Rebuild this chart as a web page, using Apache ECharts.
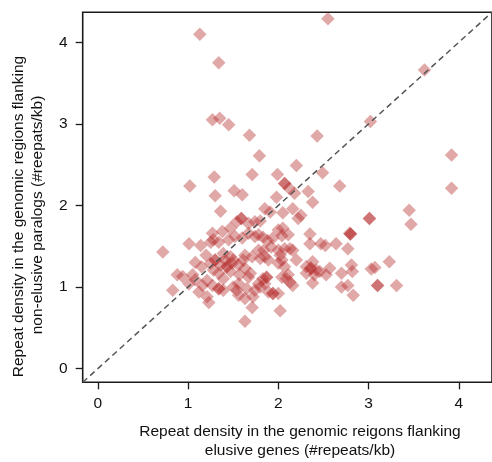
<!DOCTYPE html>
<html>
<head>
<meta charset="utf-8">
<script src="https://cdn.jsdelivr.net/npm/echarts@6/dist/echarts.min.js"></script>
<style>
html,body{margin:0;padding:0;background:#fff;}
#chart{width:492px;height:462px;}
</style>
</head>
<body>
<div id="chart"></div>
<script>
// Repeat density near elusive genes (x) vs near non-elusive paralogs (y)
const xValues = [
  1.13, 2.55, 1.34, 3.62, 1.27, 1.35, 1.45, 3.02, 1.68, 2.43,
  1.79, 3.92, 1.29, 1.71, 1.99, 2.20, 2.49, 1.02, 2.68, 3.92,
  1.51, 1.60, 1.30, 1.98, 2.07, 2.07, 2.12, 2.18, 2.33, 2.38,
  3.45, 3.47, 3.01, 3.01, 2.80, 2.80, 1.36, 1.59, 1.59, 1.54,
  1.67, 1.74, 1.85, 1.91, 2.05, 2.16, 2.22, 2.25, 1.80, 2.05,
  2.11, 2.35, 1.47, 1.38, 1.27, 1.28, 1.01, 1.14, 1.25, 1.34,
  1.45, 1.52, 1.60, 1.67, 1.74, 1.78, 1.83, 1.88, 1.94, 2.00,
  2.04, 2.35, 2.47, 2.52, 2.64, 2.77, 0.72, 1.20, 1.39, 1.47,
  1.50, 1.63, 1.71, 1.78, 1.85, 1.92, 2.00, 2.04, 2.07, 2.13,
  2.16, 2.02, 2.00, 2.20, 1.80, 1.89, 1.08, 1.15, 1.25, 1.30,
  1.30, 1.36, 1.43, 1.43, 1.47, 1.34, 1.39, 1.28, 1.41, 1.49,
  1.56, 1.63, 1.57, 1.67, 1.61, 1.69, 0.88, 0.94, 1.05, 1.08,
  1.21, 1.16, 1.01, 1.27, 1.34, 1.34, 1.39, 1.50, 1.54, 1.65,
  1.74, 0.83, 1.12, 1.21, 1.23, 1.56, 1.63, 1.72, 1.71, 1.63,
  1.56, 1.80, 1.85, 1.89, 1.94, 1.94, 1.87, 1.87, 1.83, 1.78,
  2.02, 2.07, 2.11, 2.04, 2.09, 2.13, 2.16, 2.00, 2.31, 2.38,
  2.36, 2.36, 2.42, 2.31, 2.40, 2.46, 2.57, 2.53, 2.38, 2.70,
  2.81, 2.82, 2.70, 2.77, 2.83, 3.03, 3.07, 3.23, 3.10, 3.10,
  3.31, 1.84, 2.79
];
const yValues = [
  4.10, 4.29, 3.75, 3.66, 3.05, 3.07, 2.99, 3.03, 2.86, 2.85,
  2.61, 2.62, 2.35, 2.38, 2.38, 2.49, 2.40, 2.24, 2.24, 2.21,
  2.18, 2.13, 2.12, 2.10, 2.27, 2.27, 2.21, 2.15, 2.17, 2.04,
  1.94, 1.77, 1.84, 1.84, 1.65, 1.65, 1.93, 1.84, 1.84, 1.80,
  1.78, 1.80, 1.96, 1.92, 1.91, 1.96, 1.84, 1.88, 1.81, 1.72,
  1.64, 1.65, 1.72, 1.68, 1.66, 1.58, 1.53, 1.51, 1.55, 1.55,
  1.58, 1.62, 1.60, 1.66, 1.62, 1.64, 1.61, 1.57, 1.60, 1.70,
  1.63, 1.53, 1.53, 1.51, 1.53, 1.47, 1.43, 1.39, 1.41, 1.37,
  1.33, 1.39, 1.37, 1.45, 1.37, 1.49, 1.45, 1.33, 1.47, 1.47,
  1.45, 1.39, 1.29, 1.33, 1.35, 1.33, 1.30, 1.25, 1.29, 1.33,
  1.33, 1.27, 1.25, 1.25, 1.19, 1.17, 1.10, 1.21, 1.33, 1.29,
  1.27, 1.23, 1.15, 1.12, 1.33, 1.17, 1.15, 1.13, 1.15, 1.09,
  1.08, 1.02, 1.04, 1.02, 0.98, 0.98, 0.96, 1.00, 0.96, 0.98,
  0.96, 0.96, 0.94, 0.88, 0.81, 0.90, 0.86, 0.88, 0.75, 0.58,
  1.04, 1.00, 1.04, 0.94, 0.92, 0.92, 1.12, 1.12, 1.10, 1.04,
  0.71, 1.25, 1.15, 1.12, 1.10, 1.06, 1.02, 0.92, 1.25, 1.31,
  1.23, 1.23, 1.21, 1.17, 1.15, 1.19, 1.23, 1.15, 1.05, 1.17,
  1.27, 1.19, 1.00, 1.02, 0.90, 1.22, 1.24, 1.31, 1.02, 1.02,
  1.02, 1.45, 1.66
];
const tickValues = [0, 1, 2, 3, 4];
const axisMin = -0.168;
const axisMax = 4.368;
const diagonal = [[axisMin, axisMin], [axisMax, axisMax]];
const xTitle = ['Repeat density in the genomic reigons flanking', 'elusive genes (#repeats/kb)'];
const yTitle = ['Repeat density in the genomic regions flanking', 'non-elusive paralogs (#reepats/kb)'];

const points = xValues.map((x, i) => [x, yValues[i]]);
const FONT = 'Liberation Sans, Arial, Helvetica, sans-serif';
const FS = 15.5;
const chart = echarts.init(document.getElementById('chart'), null, {renderer: 'canvas'});

function axisCommon() {
  return {
    type: 'value',
    min: axisMin,
    max: axisMax,
    splitLine: {show: false},
    axisLine: {show: false, onZero: false},
    axisTick: {show: true, inside: false, length: 7, customValues: tickValues,
      lineStyle: {color: '#1a1a1a', width: 1.3}},
    axisLabel: {customValues: tickValues, color: '#111', fontSize: FS, fontFamily: FONT}
  };
}
const xAxis = axisCommon();
xAxis.axisLabel.margin = 13;
const yAxis = axisCommon();
yAxis.axisLabel.margin = 15;

chart.setOption({
  animation: false,
  backgroundColor: '#fff',
  grid: {left: 82.7, top: 12.3, bottom: 79.7, right: -3.5, show: true,
    borderColor: '#1a1a1a', borderWidth: 1.6, backgroundColor: 'transparent'},
  xAxis: xAxis,
  yAxis: yAxis,
  series: [
    {
      type: 'scatter',
      data: points,
      symbol: 'diamond',
      symbolSize: 13.5,
      itemStyle: {color: 'rgba(180,38,38,0.5)'},
      z: 2
    },
    {
      type: 'line',
      data: diagonal,
      symbol: 'none',
      clip: true,
      lineStyle: {color: '#555', width: 1.5, type: [6, 4]},
      z: 3
    }
  ],
  graphic: [
    {type: 'text', x: 300, y: 431.5, style: {text: xTitle[0], fontSize: FS, fontFamily: FONT, fill: '#111', align: 'center', verticalAlign: 'middle'}},
    {type: 'text', x: 300, y: 451, style: {text: xTitle[1], fontSize: FS, fontFamily: FONT, fill: '#111', align: 'center', verticalAlign: 'middle'}},
    {type: 'text', x: 18.5, y: 216.5, rotation: Math.PI / 2, style: {text: yTitle[0], fontSize: FS, fontFamily: FONT, fill: '#111', align: 'center', verticalAlign: 'middle'}},
    {type: 'text', x: 38, y: 215, rotation: Math.PI / 2, style: {text: yTitle[1], fontSize: FS, fontFamily: FONT, fill: '#111', align: 'center', verticalAlign: 'middle'}}
  ]
});
</script>
</body>
</html>
